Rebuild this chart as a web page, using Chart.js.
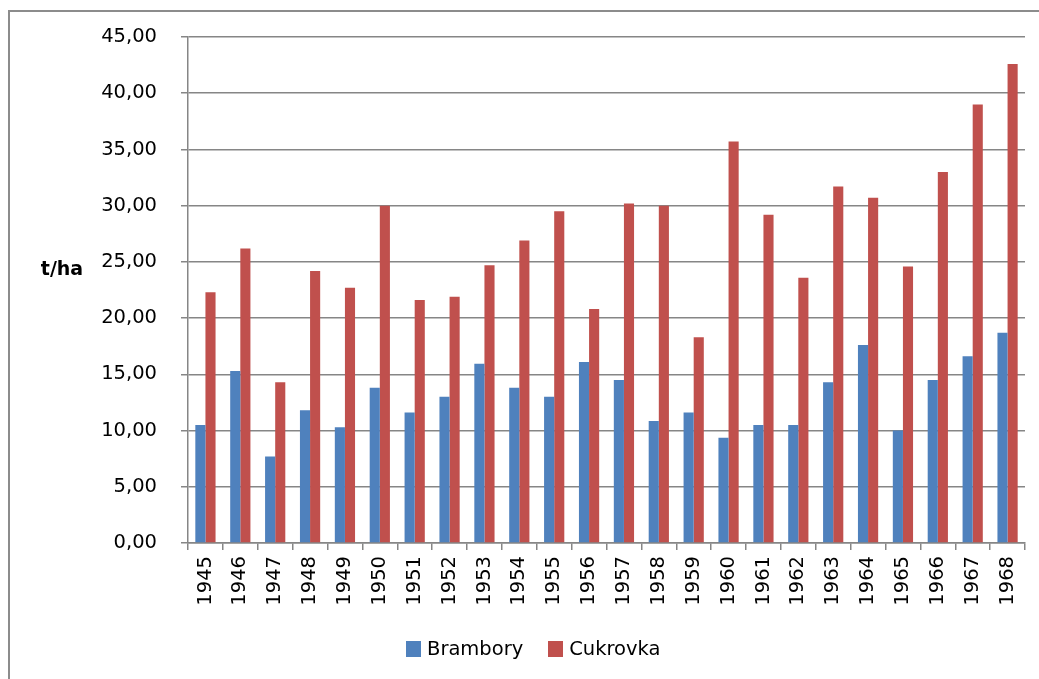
<!DOCTYPE html>
<html>
<head>
  <meta charset="utf-8" />
  <title>Brambory a cukrovka</title>
  <script src="https://cdn.jsdelivr.net/npm/chart.js@4"></script>
  <style>
    html, body {
      margin: 0;
      padding: 0;
      background: #fff;
      overflow: hidden;
      font-family: 'DejaVu Sans', sans-serif;
    }
    .wrap {
      position: relative;
      width: 1039px;
      height: 679px;
    }
    /* ramecek grafu (jen horni a leva hrana jsou videt) */
    .frame {
      position: absolute;
      left: 8px;
      top: 10px;
      width: 1100px;
      height: 700px;
      border-left: 2px solid #8c8c8c;
      border-top: 2px solid #8c8c8c;
    }
    canvas {
      position: absolute;
      left: 0;
      top: 0;
    }
    /* legenda pod grafem */
    .legend {
      position: absolute;
      left: 406px;
      top: 637px;
      display: flex;
      align-items: center;
      font-size: 19.5px;
      color: #000;
      white-space: nowrap;
    }
    .legend .item {
      display: flex;
      align-items: center;
      margin-right: 25px;
    }
    .legend .box {
      width: 15px;
      height: 16px;
      margin-right: 6px;
    }
  </style>
</head>
<body>
  <div class="wrap">
    <div class="frame"></div>
    <canvas id="chart" width="1039" height="679"></canvas>
    <div class="legend" id="legend"></div>
  </div>

  <script>
    // Roky
    const years = ['1945', '1946', '1947', '1948', '1949', '1950', '1951', '1952',
                   '1953', '1954', '1955', '1956', '1957', '1958', '1959', '1960',
                   '1961', '1962', '1963', '1964', '1965', '1966', '1967', '1968'];

    // Hektarove vynosy (t/ha)
    const brambory = [10.5, 15.3, 7.7, 11.8, 10.3, 13.8, 11.6, 13.0,
                      15.95, 13.8, 13.0, 16.1, 14.5, 10.85, 11.6, 9.35,
                      10.5, 10.5, 14.3, 17.6, 10.0, 14.5, 16.6, 18.7];
    const cukrovka = [22.3, 26.2, 14.3, 24.2, 22.7, 30.0, 21.6, 21.9,
                      24.7, 26.9, 29.5, 20.8, 30.2, 30.0, 18.3, 35.7,
                      29.2, 23.6, 31.7, 30.7, 24.6, 33.0, 39.0, 42.6];

    const yTicks = { min: 0, max: 45, step: 5 };
    const yTitle = 't/ha';

    const FONT = "'DejaVu Sans', sans-serif";
    const gridGray = '#868686';

    const series = [
      { label: 'Brambory', data: brambory, color: '#4F81BD' },
      { label: 'Cukrovka', data: cukrovka, color: '#C0504D' }
    ];

    // Nazev osy Y vodorovne (jako v Excelu)
    const yTitlePlugin = {
      id: 'yTitle',
      afterDraw(chart) {
        const ctx = chart.ctx;
        ctx.save();
        ctx.font = 'bold 19px ' + FONT;
        ctx.fillStyle = '#000';
        ctx.textAlign = 'center';
        ctx.textBaseline = 'middle';
        ctx.fillText(yTitle, 62, 270);
        ctx.restore();
      }
    };

    Chart.defaults.font.family = FONT;
    Chart.defaults.font.size = 19.5;
    Chart.defaults.color = '#000';

    new Chart(document.getElementById('chart'), {
      type: 'bar',
      data: {
        labels: years,
        datasets: series.map(s => ({
          label: s.label,
          data: s.data,
          backgroundColor: s.color
        }))
      },
      options: {
        responsive: false,
        animation: false,
        layout: { padding: { left: 0, right: 14, top: 37, bottom: 36 } },
        datasets: {
          bar: { categoryPercentage: 0.58, barPercentage: 1.0 }
        },
        plugins: {
          legend: { display: false },
          tooltip: { enabled: false }
        },
        scales: {
          x: {
            grid: {
              drawOnChartArea: false,
              offset: true,
              color: gridGray,
              tickLength: 7,
              lineWidth: 1.5
            },
            border: { color: gridGray, width: 1.5 },
            ticks: {
              minRotation: 90,
              maxRotation: 90,
              padding: 6
            },
            afterFit(scale) { scale.height = 100; }
          },
          y: {
            min: yTicks.min,
            max: yTicks.max,
            grid: {
              color: gridGray,
              lineWidth: 1.5,
              tickLength: 7
            },
            border: { color: gridGray, width: 1.5 },
            ticks: {
              stepSize: yTicks.step,
              padding: 24,
              callback: v => v.toFixed(2).replace('.', ',')
            },
            afterFit(scale) { scale.width = 188; }
          }
        }
      },
      plugins: [yTitlePlugin]
    });

    // HTML legenda
    const legendEl = document.getElementById('legend');
    series.forEach(s => {
      const item = document.createElement('div');
      item.className = 'item';
      const box = document.createElement('span');
      box.className = 'box';
      box.style.background = s.color;
      const txt = document.createElement('span');
      txt.textContent = s.label;
      item.appendChild(box);
      item.appendChild(txt);
      legendEl.appendChild(item);
    });
  </script>
</body>
</html>
